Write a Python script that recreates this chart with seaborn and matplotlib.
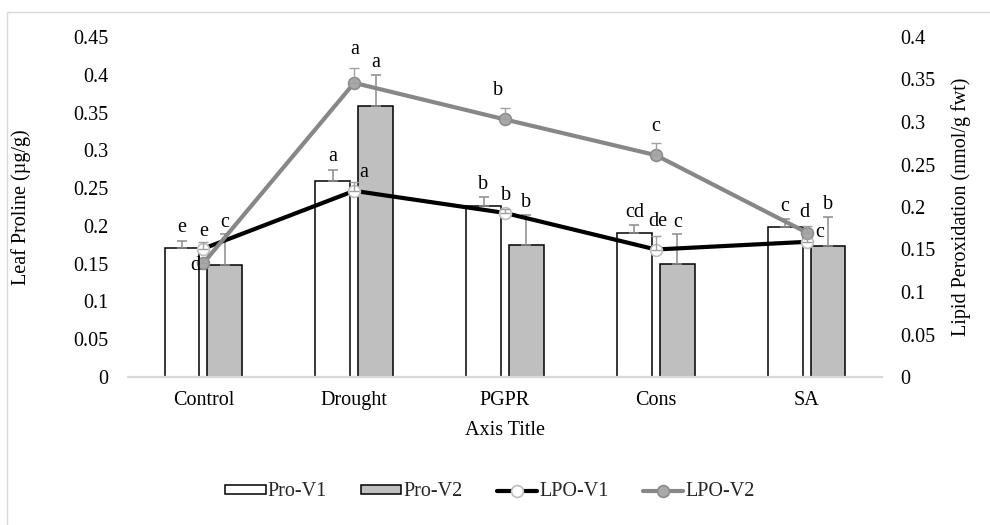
import numpy as np
import pandas as pd
import matplotlib
matplotlib.use("Agg")
import matplotlib.pyplot as plt
from matplotlib.patches import Rectangle
import seaborn as sns

# ---------------- data ----------------
categories = ["Control", "Drought", "PGPR", "Cons", "SA"]
pro_v1 = [0.171, 0.260, 0.226, 0.191, 0.199]
pro_v2 = [0.148, 0.359, 0.175, 0.149, 0.173]
pro_v1_err = [0.009, 0.014, 0.012, 0.010, 0.010]
pro_v2_err = [0.041, 0.041, 0.040, 0.040, 0.039]
lpo_v1 = [0.151, 0.219, 0.193, 0.150, 0.159]
lpo_v2 = [0.134, 0.346, 0.303, 0.261, 0.170]
lpo_v1_err = [0.008, 0.010, 0.005, 0.016, 0.005]
lpo_v2_err = [0.005, 0.018, 0.014, 0.014, 0.008]
pro_v1_letters = ["e", "a", "b", "cd", "c"]
pro_v2_letters = ["c", "a", "b", "c", "b"]
lpo_v1_letters = ["e", "a", "b", "de", "c"]
lpo_v2_letters = ["d", "a", "b", "c", "d"]
left_ticks = [0, 0.05, 0.1, 0.15, 0.2, 0.25, 0.3, 0.35, 0.4, 0.45]
right_ticks = [0, 0.05, 0.1, 0.15, 0.2, 0.25, 0.3, 0.35, 0.4]

# ---------------- style ----------------
sns.set_theme(style="white")
plt.rcParams["font.family"] = ["Liberation Serif", "DejaVu Serif"]
FS = 14.5
PX = 72 / 100.0  # pixel -> point

fig = plt.figure(figsize=(9.9, 5.25), dpi=100)
ax = fig.add_axes([128 / 990, 1 - 377 / 525, 754 / 990, 340 / 525])
ax2 = ax.twinx()

# outer chart border
fig.add_artist(Rectangle((7 / 990, -0.1), 1.2, 1.1 - 12 / 525, transform=fig.transFigure,
                         fill=False, edgecolor="#d9d9d9", lw=1.0))

df_pro = pd.DataFrame({
    "Treatment": categories * 2,
    "Series": ["Pro-V1"] * len(categories) + ["Pro-V2"] * len(categories),
    "Proline": pro_v1 + pro_v2,
})
sns.barplot(data=df_pro, x="Treatment", y="Proline", hue="Series", order=categories,
            palette={"Pro-V1": "white", "Pro-V2": "#bfbfbf"}, saturation=1,
            edgecolor="black", linewidth=1.1, width=0.57, gap=0.19,
            errorbar=None, ax=ax)

# error bars + letters on bars
bar_off = [(0, 13), (0, 12)]
for k, (cont, vals, errs, letters) in enumerate(zip(
        ax.containers, [pro_v1, pro_v2], [pro_v1_err, pro_v2_err],
        [pro_v1_letters, pro_v2_letters])):
    xs = [b.get_x() + b.get_width() / 2 for b in cont]
    ax.errorbar(xs, vals, yerr=[np.zeros(len(errs)), errs], fmt="none",
                ecolor="#8c8c8c", elinewidth=1.1, capsize=3.6, capthick=1.1, zorder=3)
    for x, v, e, t in zip(xs, vals, errs, letters):
        ax.annotate(t, (x, v + e), xytext=(bar_off[k][0] * PX, bar_off[k][1] * PX),
                    textcoords="offset points", ha="center", va="center",
                    fontsize=FS, color="black")

# lines (right axis)
xpos = np.arange(len(categories))
sns.lineplot(x=xpos, y=lpo_v1, ax=ax2, sort=False, color="black", lw=3.0,
             marker="o", markersize=8.5, markerfacecolor="white",
             markeredgecolor="#bfbfbf", markeredgewidth=1.2, label="LPO-V1", zorder=4)
sns.lineplot(x=xpos, y=lpo_v2, ax=ax2, sort=False, color="#878787", lw=3.0,
             marker="o", markersize=8.5, markerfacecolor="#a9a9a9",
             markeredgecolor="#8c8c8c", markeredgewidth=1.2, label="LPO-V2", zorder=4)
for vals, errs in [(lpo_v1, lpo_v1_err), (lpo_v2, lpo_v2_err)]:
    ax2.errorbar(xpos, vals, yerr=[np.zeros(len(errs)), errs], fmt="none",
                 ecolor="#a0a0a0", elinewidth=1.0, capsize=3.6, capthick=1.0, zorder=5)

lpo1_off = [(0, 10), (9, 10), (1, 13), (2, 14), (13, 5)]
lpo2_off = [(-8, -7), (0, 18), (-7, 17), (0, 17), (-2, 13)]
for vals, errs, letters, offs in [(lpo_v1, lpo_v1_err, lpo_v1_letters, lpo1_off),
                                  (lpo_v2, lpo_v2_err, lpo_v2_letters, lpo2_off)]:
    for x, v, e, t, o in zip(xpos, vals, errs, letters, offs):
        ax2.annotate(t, (x, v + e), xytext=(o[0] * PX, o[1] * PX),
                     textcoords="offset points", ha="center", va="center",
                     fontsize=FS, color="black", zorder=6)

# axes cosmetics
ax.set_xlim(-0.5, len(categories) - 0.5)
ax.set_ylim(0, 0.45)
ax2.set_ylim(0, 0.4)
ax.set_yticks(left_ticks)
ax.set_yticklabels([f"{t:g}" for t in left_ticks])
ax2.set_yticks(right_ticks)
ax2.set_yticklabels([f"{t:g}" for t in right_ticks])
ax.set_xticks(range(len(categories)))
ax.set_xticklabels(categories)
for a in (ax, ax2):
    for s in a.spines.values():
        s.set_visible(False)
    a.grid(False)
ax.spines["bottom"].set_visible(True)
ax.spines["bottom"].set_color("#d9d9d9")
ax.spines["bottom"].set_linewidth(1.6)
ax.tick_params(axis="y", length=0, pad=14, labelsize=FS, colors="black")
ax.tick_params(axis="x", length=0, pad=10, labelsize=FS, colors="black")
ax2.tick_params(axis="y", length=0, pad=13, labelsize=FS, colors="black")

ax.set_xlabel("Axis Title", fontsize=FS, color="black")
ax.xaxis.set_label_coords(0.5, -0.13)
ax.set_ylabel("Leaf Proline (µg/g)", fontsize=FS, color="black")
ax.yaxis.set_label_coords(-0.128, 0.5)
ax2.set_ylabel("Lipid Peroxidation (nmol/g fwt)", fontsize=FS, color="black")
ax2.yaxis.set_label_coords(1.092, 0.5)

# legend
h1, l1 = ax.get_legend_handles_labels()
h2, l2 = ax2.get_legend_handles_labels()
for a in (ax, ax2):
    if a.get_legend() is not None:
        a.get_legend().remove()
fig.legend(h1 + h2, l1 + l2, loc="center", bbox_to_anchor=(490 / 990, 1 - 492 / 525),
           ncol=4, frameon=False, fontsize=FS, handlelength=2.0, handleheight=0.35,
           handletextpad=0.1, columnspacing=1.7)

fig.savefig("out.png", dpi=100)
